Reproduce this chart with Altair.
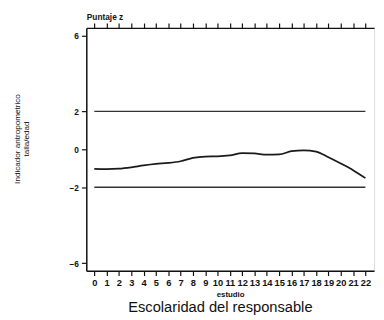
import altair as alt
import pandas as pd

# data
years = list(range(23))
zscore = [-1.03, -1.04, -1.02, -0.95, -0.85, -0.77, -0.72, -0.63, -0.45, -0.38,
          -0.37, -0.32, -0.20, -0.22, -0.28, -0.27, -0.10, -0.05, -0.12, -0.42,
          -0.75, -1.10, -1.52]
ref_levels = [2, -2]
ref_start = [0, 0]
ref_end = [22, 22]
y_ticks = [6, 2, 0, -2, -6]

df = pd.DataFrame({"estudio": years, "z": zscore})
ref = pd.DataFrame({"y": ref_levels, "x0": ref_start, "x1": ref_end})

FONT = "Liberation Sans"
xscale = alt.Scale(domain=[-0.65, 22.7], nice=False, zero=False)
yscale = alt.Scale(domain=[-6.4, 6.4], nice=False, zero=False)

line = alt.Chart(df).mark_line(color="#1a1a1a", strokeWidth=1.8, interpolate="monotone").encode(
    x=alt.X("estudio:Q", scale=xscale,
            axis=alt.Axis(values=years, format="d", title="estudio", grid=False,
                          labelFont=FONT, labelFontWeight="bold", labelFontSize=9.5,
                          labelColor="#111", labelOverlap=False, labelFlush=False,
                          labelPadding=2, tickSize=5, tickColor="#111", domainColor="#111",
                          domainWidth=1.5, tickWidth=1.2,
                          titleFont=FONT, titleFontSize=8, titleFontWeight="bold",
                          titleColor="#111", titleY=26, titleBaseline="alphabetic")),
    y=alt.Y("z:Q", scale=yscale,
            axis=alt.Axis(values=y_ticks, title=["Indicador antropometrico", "talla/edad"],
                          grid=False, labelFont=FONT, labelFontWeight="bold", labelFontSize=8.5,
                          labelColor="#111", labelPadding=3, tickSize=5, tickColor="#111",
                          domainColor="#111", domainWidth=1.5, tickWidth=1.2,
                          titleFont=FONT, titleFontSize=8.3, titleFontWeight="normal",
                          titleColor="#111", titleX=-66, titleY=113, titleLineHeight=9)),
)

rules = alt.Chart(ref).mark_rule(color="#333", strokeWidth=1.5).encode(
    x=alt.X("x0:Q", scale=xscale,
            axis=alt.Axis(orient="top", values=years, labels=False, title="Puntaje z",
                          grid=False, tickSize=5, tickColor="#111", domainColor="#111",
                          domainWidth=1.2, tickWidth=1.2,
                          titleFont=FONT, titleFontSize=8.5, titleFontWeight="bold",
                          titleColor="#111", titleAnchor="start", titleAlign="left",
                          titleX=0, titleY=-9, titleBaseline="alphabetic")),
    x2="x1:Q",
    y=alt.Y("y:Q", scale=yscale),
)

chart = alt.layer(rules, line).resolve_axis(x="independent").properties(
    width=294, height=248,
    autosize=alt.AutoSizeParams(type="none"),
    padding={"left": 80, "top": 17, "right": 2, "bottom": 46},
    title=alt.TitleParams("Escolaridad del responsable", orient="bottom", font=FONT,
                          fontSize=15, fontWeight="normal", color="#111", anchor="middle",
                          dx=-10, offset=2),
).configure_view(stroke="#111", strokeWidth=1.2).configure(background="white")

chart.save("out.html", embed_options={"renderer": "svg", "actions": False})
